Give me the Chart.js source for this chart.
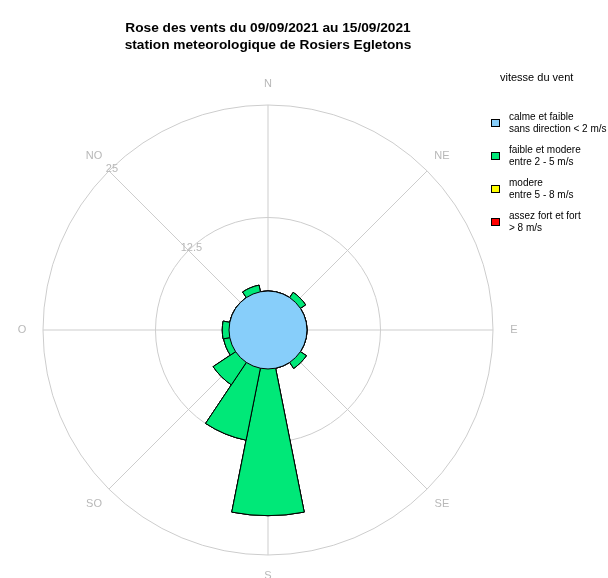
<!DOCTYPE html>
<html>
<head>
<meta charset="utf-8">
<script src="https://cdn.jsdelivr.net/npm/chart.js@4.4.1/dist/chart.umd.min.js"></script>
<style>
  body { margin: 0; background: #fff; }
  #wrap { position: relative; width: 608px; height: 578px; overflow: hidden; font-family: "Liberation Sans", Arial, sans-serif; }
  #rose { position: absolute; left: 0; top: 0; }
  #titre { position: absolute; left: 0; top: 19px; width: 536px; text-align: center; font-weight: bold; font-size: 13.7px; line-height: 17px; color: #000; }
  #legende { position: absolute; left: 490px; top: 71px; font-size: 10px; color: #000; }
  #legende .head { margin-left: 10px; font-size: 11px; margin-bottom: 28px; }
  #legende .item { position: relative; padding-left: 19px; line-height: 12px; margin-bottom: 9px; }
  #legende .box { position: absolute; left: 1px; top: 8px; width: 7px; height: 6px; border: 1px solid #000; }
</style>
</head>
<body>
<div id="wrap">
  <canvas id="rose" width="608" height="578"></canvas>
  <div id="titre">Rose des vents du 09/09/2021 au 15/09/2021<br>station meteorologique de Rosiers Egletons</div>
  <div id="legende"></div>
</div>
<script>
// secteurs (16 directions, depart au nord, sens horaire)
var directions = ['N','NNE','NE','ENE','E','ESE','SE','SSE','S','SSO','SO','OSO','O','ONO','NO','NNO'];
var compass = ['N','NE','E','SE','S','SO','O','NO'];
var ticksVal = [0, 12.5, 25];

// frequences (%) par classe de vitesse
var calme = 4.33;
var faibleModere = [0, 0, 0.7, 0, 0, 0, 0.8, 0, 16.3, 8.15, 3.0, 0.7, 0.75, 0, 0, 0.75];
var modere = [0, 0, 0, 0, 0, 0, 0, 0, 0, 0, 0, 0, 0, 0, 0, 0];
var fort = [0, 0, 0, 0, 0, 0, 0, 0, 0, 0, 0, 0, 0, 0, 0, 0];

var classes = [
    { nom: ['calme et faible', 'sans direction < 2 m/s'], couleur: '#87CEFA' },
    { nom: ['faible et modere', 'entre 2 - 5 m/s'], couleur: '#00E878' },
    { nom: ['modere', 'entre 5 - 8 m/s'], couleur: '#FFFF00' },
    { nom: ['assez fort et fort', '> 8 m/s'], couleur: '#FF0000' }];

// petales empiles a partir du cercle de calme
var cumul1 = faibleModere.map(function (v) { return calme + v; });
var cumul2 = modere.map(function (v, i) { return cumul1[i] + v; });
var cumul3 = fort.map(function (v, i) { return cumul2[i] + v; });

var gridColor = '#cdcdcd';
var labelColor = '#b8b8b8';

// rayons N/NE/E..., etiquettes et graduations
var decor = {
    id: 'decor',
    beforeDatasetsDraw: function (chart) {
        var s = chart.scales.r;
        var ctx = chart.ctx;
        var R = s.getDistanceFromCenterForValue(s.max);
        ctx.save();
        ctx.strokeStyle = gridColor;
        ctx.lineWidth = 1;
        for (var i = 0; i < compass.length; i++) {
            var a = i * Math.PI / 4;
            ctx.beginPath();
            ctx.moveTo(s.xCenter, s.yCenter);
            ctx.lineTo(s.xCenter + R * Math.sin(a), s.yCenter - R * Math.cos(a));
            ctx.stroke();
        }
        ctx.restore();
    },
    afterDatasetsDraw: function (chart) {
        var s = chart.scales.r;
        var ctx = chart.ctx;
        var R = s.getDistanceFromCenterForValue(s.max);
        ctx.save();
        // contour du cercle de calme
        ctx.strokeStyle = '#000';
        ctx.lineWidth = 1;
        ctx.beginPath();
        ctx.arc(s.xCenter, s.yCenter, s.getDistanceFromCenterForValue(calme), 0, 2 * Math.PI);
        ctx.stroke();

        ctx.fillStyle = labelColor;
        ctx.font = '11px "Liberation Sans", Arial, sans-serif';
        ctx.textAlign = 'center';
        ctx.textBaseline = 'middle';
        for (var i = 0; i < compass.length; i++) {
            var a = i * Math.PI / 4;
            var d = R + 21;
            ctx.fillText(compass[i], s.xCenter + d * Math.sin(a), s.yCenter - d * Math.cos(a));
        }
        var b = -Math.PI / 4;
        s.ticks.forEach(function (t) {
            if (t.value <= 0) return;
            var d = s.getDistanceFromCenterForValue(t.value);
            ctx.fillText(t.label, s.xCenter + d * Math.sin(b) + 3, s.yCenter - d * Math.cos(b) - 2);
        });
        ctx.restore();
    }
};

var rose = new Chart('rose', {
    type: 'polarArea',
    data: {
        labels: directions,
        datasets: [
            { label: 'calme', data: [calme], angle: 360, backgroundColor: classes[0].couleur, borderWidth: 0 },
            { label: 'faible et modere', data: cumul1, backgroundColor: classes[1].couleur, borderColor: '#000', borderWidth: 1 },
            { label: 'modere', data: cumul2, backgroundColor: classes[2].couleur, borderColor: '#000', borderWidth: 1 },
            { label: 'fort', data: cumul3, backgroundColor: classes[3].couleur, borderColor: '#000', borderWidth: 1 }
        ]
    },
    options: {
        responsive: false,
        animation: false,
        devicePixelRatio: 1,
        layout: { padding: { left: 43, top: 105, right: 115, bottom: 23 } },
        scales: {
            r: {
                min: ticksVal[0],
                max: ticksVal[ticksVal.length - 1],
                startAngle: -360 / directions.length / 2,
                ticks: { display: false, stepSize: ticksVal[1] },
                grid: { circular: true, color: gridColor },
                angleLines: { display: false },
                pointLabels: { display: false }
            }
        },
        plugins: {
            legend: { display: false },
            tooltip: { enabled: false }
        }
    },
    plugins: [decor]
});

// legende
var leg = document.getElementById('legende');
var html = '<div class="head">vitesse du vent</div>';
classes.forEach(function (c) {
    html += '<div class="item"><span class="box" style="background:' + c.couleur + '"></span>' + c.nom.join('<br>') + '</div>';
});
leg.innerHTML = html;
</script>
</body>
</html>
